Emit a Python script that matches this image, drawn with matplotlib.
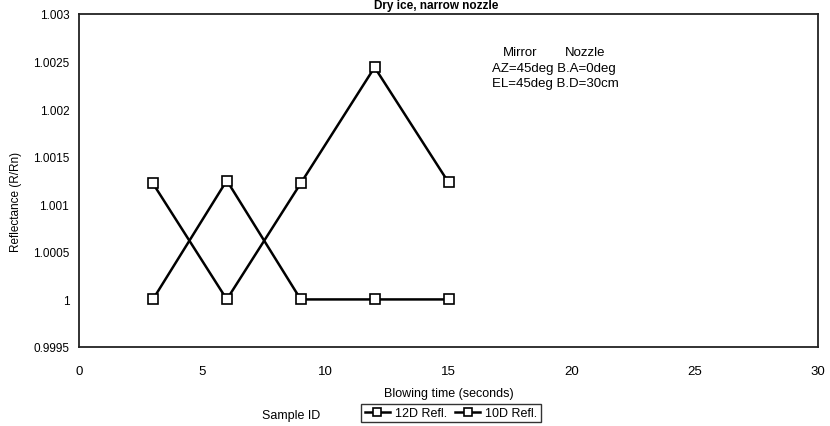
import matplotlib
matplotlib.use("Agg")
import matplotlib.pyplot as plt

plt.rcParams['font.family'] = ['Liberation Sans', 'DejaVu Sans']

# blowing time (s) and reflectance values
times = [3, 6, 9, 12, 15]
refl_12d = [1.0, 1.00125, 1.0, 1.0, 1.0]
refl_10d = [1.00122, 1.0, 1.00122, 1.00244, 1.00123]
series_names = ['12D Refl.', '10D Refl.']

yticks = [0.9995, 1, 1.0005, 1.001, 1.0015, 1.002, 1.0025, 1.003]
ytick_labels = ['0.9995', '1', '1.0005', '1.001', '1.0015', '1.002', '1.0025', '1.003']
xticks = [0, 5, 10, 15, 20, 25, 30]

fig = plt.figure(figsize=(8.3, 4.27), dpi=100)
ax = fig.add_axes([79 / 830, 1 - 348 / 427, (818 - 79) / 830, (348 - 15) / 427])

for vals, name in zip([refl_12d, refl_10d], series_names):
    ax.plot(times, vals, color='black', linewidth=1.8, marker='s', markersize=7.5,
            markerfacecolor='white', markeredgecolor='black', markeredgewidth=1.2,
            label=name)

ax.set_xlim(0, 30)
ax.set_ylim(0.9995, 1.003)
ax.set_xticks(xticks)
ax.set_xticklabels([str(t) for t in xticks], fontsize=9.5)
ax.set_yticks(yticks)
ax.set_yticklabels(ytick_labels, fontsize=8.5)
ax.tick_params(axis='x', length=0, pad=13)
ax.tick_params(axis='y', length=0, pad=7)
for sp in ax.spines.values():
    sp.set_linewidth(1.3)
    sp.set_color('#222222')

ax.set_xlabel('Blowing time (seconds)', fontsize=9, labelpad=7)
ax.set_ylabel('Reflectance (R/Rn)', fontsize=8.5)
ax.yaxis.set_label_coords(-0.077, 0.44)

# annotation block
fig.text(503 / 830, 1 - 53 / 427, 'Mirror', fontsize=9.5, ha='left', va='center')
fig.text(565 / 830, 1 - 53 / 427, 'Nozzle', fontsize=9.5, ha='left', va='center')
fig.text(492 / 830, 1 - 69 / 427, 'AZ=45deg B.A=0deg', fontsize=9.5, ha='left', va='center')
fig.text(492 / 830, 1 - 84 / 427, 'EL=45deg B.D=30cm', fontsize=9.5, ha='left', va='center')

# title sits right at the top edge
fig.text(436 / 830, 1 - 6 / 427, 'Dry ice, narrow nozzle', fontsize=8.5, fontweight='bold',
         ha='center', va='center')

fig.text(291 / 830, 1 - 416 / 427, 'Sample ID', fontsize=9, ha='center', va='center')
leg = fig.legend(loc='center', bbox_to_anchor=(451 / 830, 1 - 414 / 427), ncol=2,
                 fontsize=9, frameon=True, fancybox=False, edgecolor='black',
                 handlelength=2.0, handletextpad=0.4, columnspacing=0.7,
                 borderpad=0.25, borderaxespad=0, markerscale=0.8)
leg.get_frame().set_linewidth(1.0)

fig.savefig('out.png', dpi=100, facecolor='white')
